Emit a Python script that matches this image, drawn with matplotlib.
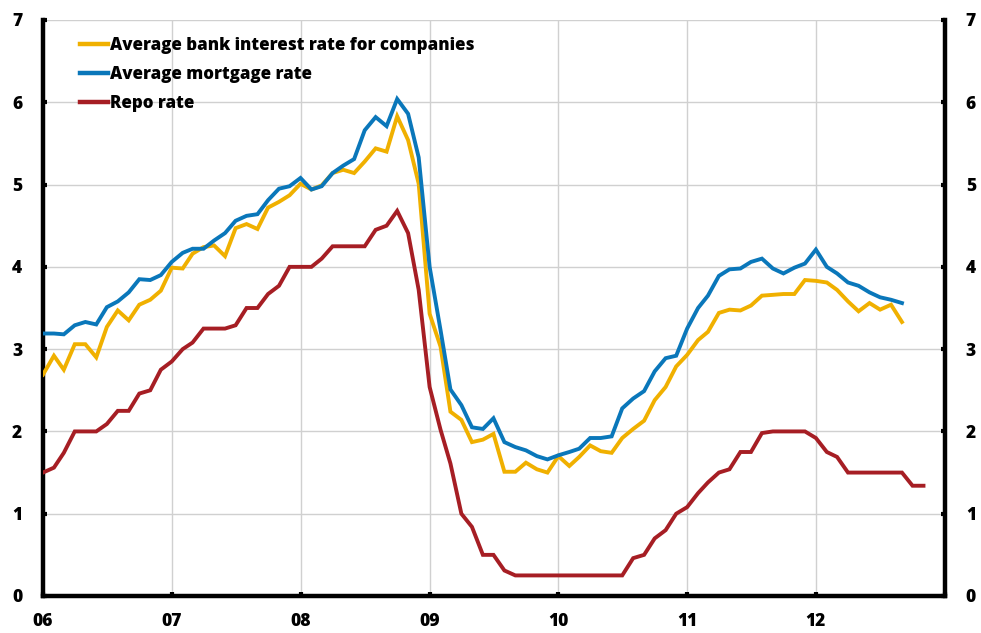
import matplotlib
matplotlib.use("Agg")
import matplotlib.pyplot as plt
import pandas as pd

plt.rcParams['font.family'] = ['Open Sans', 'DejaVu Sans']
plt.rcParams['font.weight'] = 'heavy'

repo_rate = [1.5, 1.56, 1.74, 2.0, 2.0, 2.0, 2.09, 2.25, 2.25, 2.46, 2.5, 2.75,
             2.85, 3.0, 3.08, 3.25, 3.25, 3.25, 3.29, 3.5, 3.5, 3.67, 3.77, 4.0,
             4.0, 4.0, 4.1, 4.25, 4.25, 4.25, 4.25, 4.45, 4.5, 4.68, 4.41, 3.72,
             2.54, 2.02, 1.61, 1.0, 0.84, 0.5, 0.5, 0.31, 0.25, 0.25, 0.25, 0.25,
             0.25, 0.25, 0.25, 0.25, 0.25, 0.25, 0.25, 0.46, 0.5, 0.7, 0.8, 1.0,
             1.08, 1.25, 1.38, 1.5, 1.54, 1.75, 1.75, 1.98, 2.0, 2.0, 2.0, 2.0,
             1.92, 1.75, 1.69, 1.5, 1.5, 1.5, 1.5, 1.5, 1.5, 1.34, 1.34]

companies_rate = [2.69, 2.92, 2.75, 3.06, 3.06, 2.90, 3.27, 3.47, 3.35, 3.54, 3.60, 3.71,
                  3.99, 3.98, 4.16, 4.24, 4.26, 4.13, 4.47, 4.52, 4.46, 4.72, 4.79, 4.87,
                  5.01, 4.94, 4.99, 5.14, 5.18, 5.14, 5.28, 5.44, 5.40, 5.83, 5.54, 5.01,
                  3.43, 3.03, 2.24, 2.14, 1.87, 1.90, 1.97, 1.51, 1.51, 1.62, 1.54, 1.50,
                  1.70, 1.58, 1.69, 1.83, 1.76, 1.74, 1.92, 2.03, 2.13, 2.38, 2.54, 2.79,
                  2.93, 3.11, 3.21, 3.44, 3.48, 3.47, 3.53, 3.65, 3.66, 3.67, 3.67, 3.84,
                  3.83, 3.81, 3.72, 3.58, 3.46, 3.56, 3.48, 3.54, 3.33]

mortgage_rate = [3.19, 3.19, 3.18, 3.29, 3.33, 3.30, 3.51, 3.58, 3.69, 3.85, 3.84, 3.90,
                 4.06, 4.17, 4.22, 4.22, 4.32, 4.41, 4.56, 4.62, 4.64, 4.81, 4.95, 4.98,
                 5.08, 4.94, 4.98, 5.14, 5.23, 5.31, 5.66, 5.82, 5.71, 6.04, 5.86, 5.33,
                 4.00, 3.23, 2.51, 2.32, 2.05, 2.03, 2.16, 1.87, 1.81, 1.77, 1.70, 1.66,
                 1.71, 1.75, 1.79, 1.92, 1.92, 1.94, 2.28, 2.40, 2.49, 2.73, 2.89, 2.92,
                 3.25, 3.50, 3.65, 3.89, 3.97, 3.98, 4.06, 4.10, 3.98, 3.92, 3.99, 4.04,
                 4.21, 4.00, 3.92, 3.81, 3.77, 3.69, 3.63, 3.60, 3.56]

labels = ["Average bank interest rate for companies", "Average mortgage rate", "Repo rate"]
colors = ["#F0B000", "#0A77BA", "#A61E24"]
year_labels = ["06", "07", "08", "09", "10", "11", "12"]

dates_repo = pd.date_range("2006-01-01", periods=len(repo_rate), freq="MS")
dates_comp = pd.date_range("2006-01-01", periods=len(companies_rate), freq="MS")
dates_mort = pd.date_range("2006-01-01", periods=len(mortgage_rate), freq="MS")
year_ticks = pd.date_range("2006-01-01", periods=len(year_labels), freq="YS")

fig = plt.figure(figsize=(9.81, 6.33), dpi=100)
ax = fig.add_axes([43/981, 1-596/633, (945-43)/981, (596-20)/633])

lw = 2.8
ax.plot(dates_comp, companies_rate, color=colors[0], lw=lw, label=labels[0], solid_joinstyle='miter', zorder=3)
ax.plot(dates_mort, mortgage_rate, color=colors[1], lw=lw, label=labels[1], solid_joinstyle='miter', zorder=4)
ax.plot(dates_repo, repo_rate, color=colors[2], lw=lw, label=labels[2], solid_joinstyle='miter', zorder=5)

ax.set_xlim(pd.Timestamp("2006-01-01"), pd.Timestamp("2013-01-01"))
ax.set_ylim(0, 7)
ax.set_yticks(range(0, 8))
ax.set_xticks(list(year_ticks) + [pd.Timestamp("2013-01-01")])
ax.set_xticklabels(year_labels + [""])

ax.grid(True, color="#d0d0d0", lw=1.0, zorder=0)
ax.set_axisbelow(True)

for s in ["left", "right", "bottom"]:
    ax.spines[s].set_linewidth(3.2)
    ax.spines[s].set_color("black")
ax.spines["top"].set_visible(False)

ax.tick_params(axis="both", direction="in", length=3, width=3, labelsize=12.5, colors="black")
ax.tick_params(axis="y", pad=15, left=True, right=True, labelleft=True, labelright=True)
ax.tick_params(axis="x", pad=12)

leg = ax.legend(loc="upper left", bbox_to_anchor=(0.0415, 0.970), frameon=False,
                prop={'size': 12.2, 'weight': 'heavy'}, handlelength=1.65, handletextpad=0.1,
                labelspacing=0.71, borderaxespad=0, borderpad=0)
for line in leg.get_lines():
    line.set_linewidth(3.2)

for l in ax.get_xticklabels() + ax.get_yticklabels():
    l.set_fontweight("heavy")
for t in ax.yaxis.get_major_ticks():
    t.label2.set_fontweight("heavy")

fig.savefig("out.png", dpi=100)
